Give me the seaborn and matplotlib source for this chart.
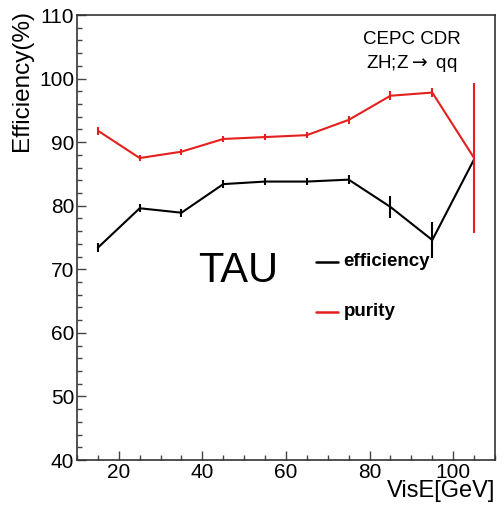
import numpy as np
import pandas as pd
import matplotlib
matplotlib.use("Agg")
import matplotlib.pyplot as plt
import seaborn as sns
from matplotlib.ticker import MultipleLocator

# Visible-energy bin centres [GeV]
vis_e = [15, 25, 35, 45, 55, 65, 75, 85, 95, 105]

# Tau identification performance per bin [%]
efficiency = [73.4, 79.6, 78.9, 83.4, 83.8, 83.8, 84.1, 79.8, 74.6, 87.3]
efficiency_err = [0.7, 0.6, 0.6, 0.6, 0.6, 0.6, 0.7, 1.7, 2.8, 0.0]
purity = [91.8, 87.5, 88.5, 90.5, 90.8, 91.1, 93.5, 97.3, 97.8, 87.5]
purity_err = [0.6, 0.5, 0.5, 0.5, 0.5, 0.5, 0.6, 0.7, 0.7, 11.8]

series_names = ["efficiency", "purity"]
colors = {"efficiency": "black", "purity": "#e3201e"}

df = pd.concat([
    pd.DataFrame({"VisE": vis_e, "value": efficiency, "err": efficiency_err, "series": "efficiency"}),
    pd.DataFrame({"VisE": vis_e, "value": purity, "err": purity_err, "series": "purity"}),
], ignore_index=True)

sns.set_style("ticks")
plt.rcParams["font.family"] = ["Liberation Sans", "DejaVu Sans"]
plt.rcParams["text.color"] = "black"
plt.rcParams["axes.labelcolor"] = "black"
plt.rcParams["xtick.labelcolor"] = "black"
plt.rcParams["ytick.labelcolor"] = "black"

fig = plt.figure(figsize=(5.03, 5.12), dpi=100)
ax = fig.add_axes([77 / 503, 52 / 512, 418 / 503, 445 / 512])

sns.lineplot(data=df, x="VisE", y="value", hue="series", palette=colors,
             hue_order=series_names, linewidth=1.5, ax=ax, legend=False)
for name in series_names:
    sub = df[df["series"] == name]
    ax.errorbar(sub["VisE"], sub["value"], yerr=sub["err"], fmt="none",
                ecolor=colors[name], elinewidth=1.5, capsize=0)

ax.set_xlim(10, 110)
ax.set_ylim(40, 110)
ax.xaxis.set_major_locator(MultipleLocator(20))
ax.xaxis.set_minor_locator(MultipleLocator(5))
ax.yaxis.set_major_locator(MultipleLocator(10))
ax.yaxis.set_minor_locator(MultipleLocator(2))
ax.tick_params(axis="both", which="major", direction="in", length=6.5, width=1,
               labelsize=15, color="#444444", pad=2)
ax.tick_params(axis="both", which="minor", direction="in", length=3.3, width=1,
               color="#444444")
for s in ax.spines.values():
    s.set_linewidth(1.2)
    s.set_color("#333333")

ax.set_ylabel("Efficiency(%)", fontsize=17.5, loc="top")
ax.yaxis.set_label_coords(-0.105, 1.012)
ax.set_xlabel("VisE[GeV]", fontsize=17, loc="right")
ax.xaxis.set_label_coords(1.0, -0.045)

ax.text(0.80, 0.965, "CEPC CDR", transform=ax.transAxes, ha="center", va="top", fontsize=13.5)
ax.text(0.80, 0.915, r"ZH;Z$\rightarrow$ qq", transform=ax.transAxes, ha="center", va="top", fontsize=13.5)
ax.text(0.385, 0.425, "TAU", transform=ax.transAxes, ha="center", va="center", fontsize=30)

# Legend entries drawn as short line samples with bold labels
for i, name in enumerate(series_names):
    y = 0.445 - i * 0.112
    ax.plot([0.572, 0.625], [y, y], transform=ax.transAxes, color=colors[name], lw=1.8)
    ax.text(0.638, y, name, transform=ax.transAxes, ha="left", va="center",
            fontsize=13.5, fontweight="bold")

fig.savefig("out.png", dpi=100)
